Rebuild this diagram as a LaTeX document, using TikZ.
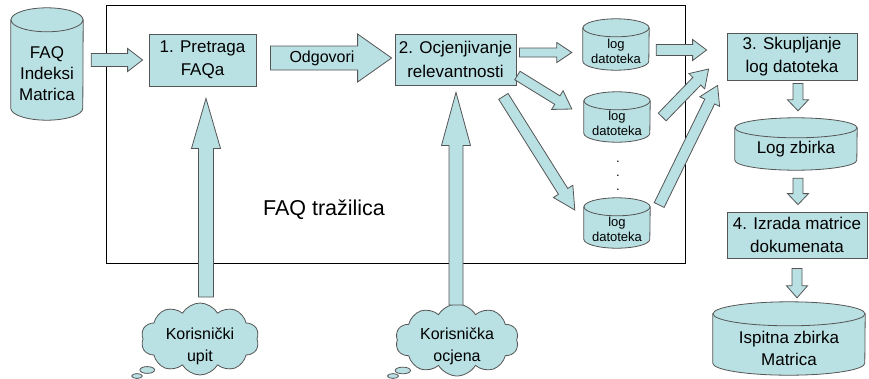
\documentclass[tikz,border=0pt]{standalone}
\usepackage{fontspec}
\setmainfont{Liberation Sans}
\usetikzlibrary{calc,shapes.symbols,shapes.callouts}

\definecolor{boxfill}{RGB}{185,224,227}
\definecolor{boxline}{RGB}{85,85,85}

\tikzset{
  procbox/.style={draw=boxline, fill=boxfill, line width=0.8pt, inner sep=0pt,
    align=center, font=\fontsize{17}{23.5}\selectfont},
  blk/.style={draw=boxline, fill=boxfill, line width=0.8pt, line join=miter},
  cylbody/.style={draw=boxline, fill=boxfill, line width=0.8pt},
  thought/.style={cloud callout, draw=boxline, fill=boxfill, line width=0.8pt,
    cloud puffs=10, cloud puff arc=120, inner sep=0pt, callout pointer segments=2,
    callout pointer start size=.16 of callout, callout pointer end size=.09 of callout},
  cloudtext/.style={align=center, font=\fontsize{16}{22}\selectfont},
}

% cylinder: name, centre x, centre y, width, height, cap radius, font, text, text shift
\newcommand{\dbcyl}[9]{%
  \node[inner sep=0pt, minimum width=#4pt, minimum height=#5pt] (#1) at (#2,#3) {};
  \filldraw[cylbody] ([yshift=-#6pt]#1.north west) -- ([yshift=#6pt]#1.south west)
    arc[start angle=180, end angle=360, x radius=#4pt/2, y radius=#6pt]
    -- ([yshift=-#6pt]#1.north east) -- cycle;
  \filldraw[cylbody] ([yshift=-#6pt]#1.north) ellipse[x radius=#4pt/2, y radius=#6pt];
  \node[align=center, font=#7] (#1-text) at ([yshift=-#9pt]#1.center) {#8};
}

% block arrow: from, to, shaft half width, head half width, head length
\newcommand{\blockarrow}[5]{%
  \path #1 coordinate (bfrom) #2 coordinate (bto);
  \path ($(bto)!#5!(bfrom)$) coordinate (bbase);
  \filldraw[blk] ($(bfrom)!#3!90:(bto)$) -- ($(bbase)!#3!-90:(bfrom)$)
    -- ($(bbase)!#4!-90:(bfrom)$) -- (bto) -- ($(bbase)!#4!90:(bfrom)$)
    -- ($(bbase)!#3!90:(bfrom)$) -- ($(bfrom)!#3!-90:(bto)$) -- cycle;
}

\begin{document}
\begin{tikzpicture}[x=1pt, y=1pt]
\useasboundingbox (0,0) rectangle (869,-378);

% search engine frame
\node[draw=black, line width=0.8pt, minimum width=579pt, minimum height=258pt, inner sep=0pt]
  (frame) at (395.5,-134) {};
\node[font=\fontsize{21.5}{24}\selectfont] (fname) at (324,-210) {FAQ tražilica};

% databases and log files
\dbcyl{faq}{47}{-64}{72}{112}{12}{\fontsize{17}{21}\selectfont}{FAQ\\Indeksi\\Matrica}{10}
\dbcyl{log1}{616}{-44.5}{66}{51}{9}{\fontsize{13}{15}\selectfont}{log\\datoteka}{6.5}
\dbcyl{log2}{617}{-117}{66}{50}{9}{\fontsize{13}{15}\selectfont}{log\\datoteka}{6.5}
\dbcyl{log3}{617}{-223}{66}{50}{9}{\fontsize{13}{15}\selectfont}{log\\datoteka}{6.5}
\dbcyl{logz}{796}{-144}{122}{52}{10}{\fontsize{17}{20}\selectfont}{Log zbirka}{5}
\dbcyl{isp}{789}{-338.5}{152}{73}{12}{\fontsize{17}{22}\selectfont}{Ispitna zbirka\\Matrica}{10}

\node[align=center, font=\fontsize{13}{14}\selectfont, inner sep=0pt] (dots) at (618,-176) {.\\.\\.};

% processing steps
\node[procbox, minimum width=107pt, minimum height=52pt] (p1) at (202.5,-60) {1. Pretraga\\FAQa};
\node[procbox, minimum width=121pt, minimum height=51pt] (p2) at (455.5,-59.5) {2. Ocjenjivanje\\relevantnosti};
\node[procbox, minimum width=130pt, minimum height=47pt] (p3) at (792,-56.5) {3. Skupljanje\\log datoteka};
\node[procbox, minimum width=140pt, minimum height=46pt] (p4) at (797,-235) {4. Izrada matrice\\dokumenata};

% user input clouds
\node[thought, minimum width=118pt, minimum height=72pt, callout absolute pointer={(137,-376)}]
  (c1) at (200,-339) {};
\node[cloudtext] (c1t) at ([yshift=-7pt]c1.center) {Korisnički\\upit};
\node[thought, minimum width=123pt, minimum height=72pt, callout absolute pointer={(393,-376)}]
  (c2) at (457,-340) {};
\node[cloudtext] (c2t) at ([yshift=-6pt]c2.center) {Korisnička\\ocjena};

% flow arrows
\blockarrow{($(faq.east |- p1.west)+(8,0)$)}{($(p1.west)+(-6,0)$)}{6.5pt}{11.5pt}{15pt}
\blockarrow{($(p1.east)+(14,2)$)}{($(p2.west)+(-3,1.5)$)}{12pt}{24pt}{34pt}
\node[font=\fontsize{16}{19}\selectfont] (odg) at (322,-58) {Odgovori};

\blockarrow{($(p2.east)+(3,7)$)}{($(p2.east -| log1.west)+(-11,7)$)}{4.5pt}{10pt}{15pt}
\blockarrow{($(p2.east)+(1,-16)$)}{($(log2.west)+(-12,8)$)}{5pt}{11pt}{17pt}
\blockarrow{($(p2.south east)+(-13,-11)$)}{($(log3.west)+(-9,13)$)}{5.5pt}{11.5pt}{22pt}

\blockarrow{($(log1.east)+(7,-5.5)$)}{($(p3.west)+(-20,6.5)$)}{5.5pt}{10.5pt}{14pt}
\blockarrow{($(log2.east)+(12,0)$)}{($(p3.west)+(-18,-12.5)$)}{5.5pt}{11pt}{17pt}
\blockarrow{($(log3.east)+(9,18)$)}{($(p3.south west)+(-9,-5)$)}{5.5pt}{11pt}{18pt}

\blockarrow{($(p3.south)+(6,-3)$)}{($(logz.north)+(2,7)$)}{5pt}{10.5pt}{11pt}
\blockarrow{($(logz.south)+(2,-8)$)}{($(p4.north)+(1,7)$)}{5pt}{10.5pt}{11pt}
\blockarrow{($(p4.south)+(0,-10)$)}{($(isp.north)+(8,4)$)}{5pt}{10.5pt}{12pt}

\blockarrow{($(c1.center)+(6,42)$)}{($(p1.south)+(3.5,-12)$)}{7.5pt}{14.5pt}{50pt}
\blockarrow{($(c2.center)+(-1,35)$)}{($(p2.south)+(0.5,-7)$)}{7pt}{14.5pt}{53pt}
\end{tikzpicture}
\end{document}
